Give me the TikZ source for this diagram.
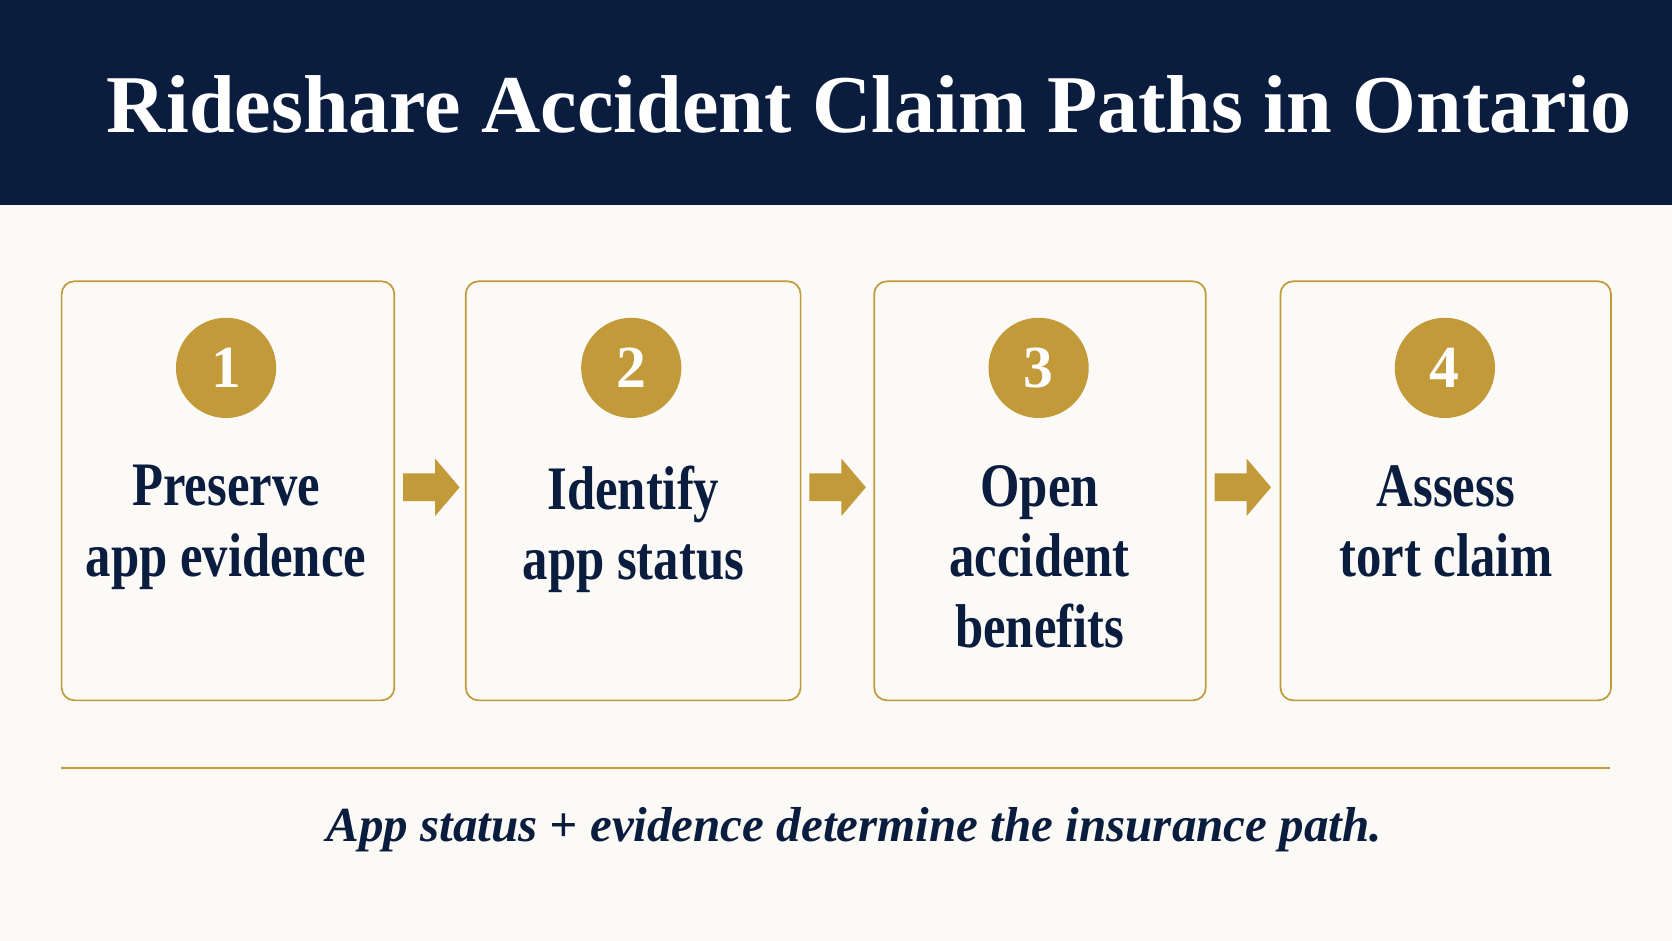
\documentclass[tikz,border=0pt]{standalone}
\usepackage{fontspec}
\setmainfont{Liberation Serif}
\definecolor{navy}{HTML}{0B1D3F}
\definecolor{gold}{HTML}{C29A3A}
\definecolor{bg}{HTML}{FBFAF6}
\begin{document}
\begin{tikzpicture}[x=1pt,y=-1pt,
 box/.style={draw=gold,line width=1.6pt,rounded corners=12pt,fill=bg,minimum width=312pt,minimum height=393pt,anchor=north west},
 num/.style={circle,fill=gold,minimum size=94pt,inner sep=0pt,text=white,font=\bfseries\fontsize{56}{60}\selectfont},
 lbl/.style={text=navy,align=center,font=\bfseries\fontsize{58}{66}\selectfont,xscale=0.82,anchor=north}]
\fill[bg] (0,0) rectangle (1568,882);
\useasboundingbox (0,0) rectangle (1568,882);
\fill[navy] (0,0) rectangle (1568,192);
\node[text=white,font=\bfseries\fontsize{77}{80}\selectfont] (title) at (815,98) {Rideshare Accident Claim Paths in Ontario};
\node[box] (b1) at (57,263) {};
\node[box,minimum width=314pt] (b2) at (436,263) {};
\node[box,minimum width=311pt] (b3) at (819,263) {};
\node[box,minimum width=310pt] (b4) at (1200,263) {};
\foreach \i/\x in {1/212,2/592,3/974,4/1355}{\node[num] (n\i) at (\x,345) {\i};}
\node[lbl] (t1) at (212,433) {Preserve\\app evidence};
\node[lbl] (t2) at (594,433) {Identify\\app status};
\node[lbl] (t3) at (975,433) {Open\\accident\\benefits};
\node[lbl] (t4) at (1356,433) {Assess\\tort claim};
\foreach \x in {378,759,1139}{
 \fill[gold] (\x,444) -- ++(30,0) -- ++(0,-14) -- ++(23,27) -- ++(-23,27) -- ++(0,-14) -- ++(-30,0) -- cycle;}
\coordinate (l1) at (57,720); \coordinate (l2) at (1510,720);
\draw[gold,line width=1.4pt] (l1) -- (l2);
\node[text=navy,font=\bfseries\itshape\fontsize{46}{50}\selectfont] (cap) at (801,778) {App status + evidence determine the insurance path.};
\end{tikzpicture}
\end{document}
